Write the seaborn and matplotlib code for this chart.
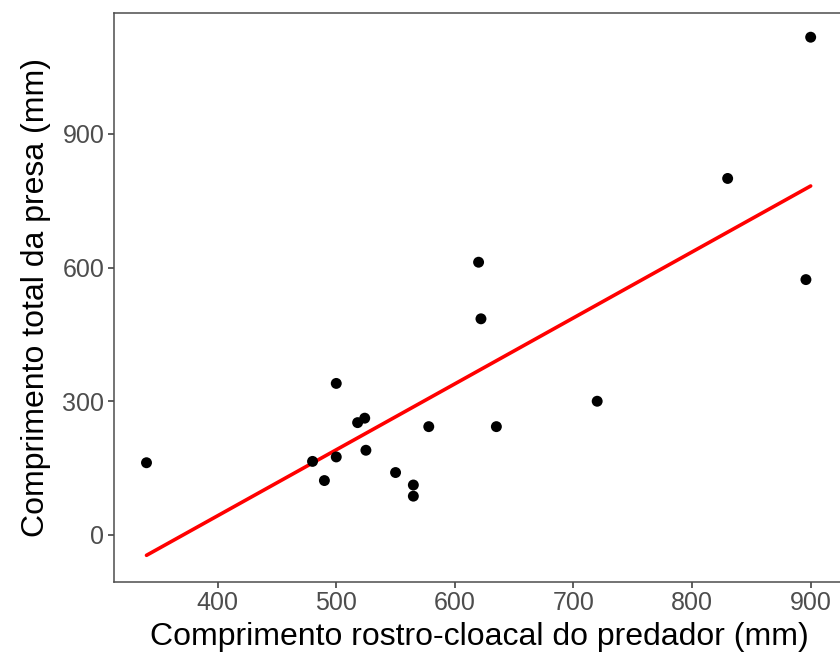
import matplotlib
matplotlib.use("Agg")
import matplotlib.pyplot as plt
import seaborn as sns
import pandas as pd

predator_svl = [340, 480, 490, 500, 500, 518, 524, 525, 550, 565, 565, 578,
                620, 622, 635, 720, 830, 896, 900]
prey_length = [162, 165, 122, 175, 340, 252, 262, 190, 140, 112, 87, 243,
               612, 485, 243, 300, 800, 573, 1117]
x_ticks = [400, 500, 600, 700, 800, 900]
y_ticks = [0, 300, 600, 900]
x_label = "Comprimento rostro-cloacal do predador (mm)"
y_label = "Comprimento total da presa (mm)"

df = pd.DataFrame({"svl": predator_svl, "prey": prey_length})

sns.set_style("white")
plt.rcParams["font.family"] = ["Liberation Sans", "DejaVu Sans"]

W, H = 840, 655
fig = plt.figure(figsize=(W / 100, H / 100), dpi=100)
left, right, top, bottom = 114, 844, 12.7, 581.7
ax = fig.add_axes([left / W, 1 - bottom / H, (right - left) / W, (bottom - top) / H])

sns.scatterplot(data=df, x="svl", y="prey", ax=ax, color="black", s=62,
                edgecolor="none", zorder=3)
sns.regplot(data=df, x="svl", y="prey", ax=ax, scatter=False, ci=None,
            color="red", line_kws={"linewidth": 2.6})

ax.set_xlim(312.6, 928.1)
ax.set_ylim(-105, 1172)
ax.set_xticks(x_ticks)
ax.set_yticks(y_ticks)
ax.set_xlabel(x_label, fontsize=23, color="black", labelpad=5)
ax.set_ylabel(y_label, fontsize=23, color="black", labelpad=8)
ax.tick_params(axis="both", which="major", labelsize=18, labelcolor="#4D4D4D",
               color="#333333", length=4, width=1.1, direction="out",
               bottom=True, left=True, pad=3)
for sp in ax.spines.values():
    sp.set_color("#4D4D4D")
    sp.set_linewidth(1.1)
    sp.set_visible(True)

fig.savefig("out.png", dpi=100)
